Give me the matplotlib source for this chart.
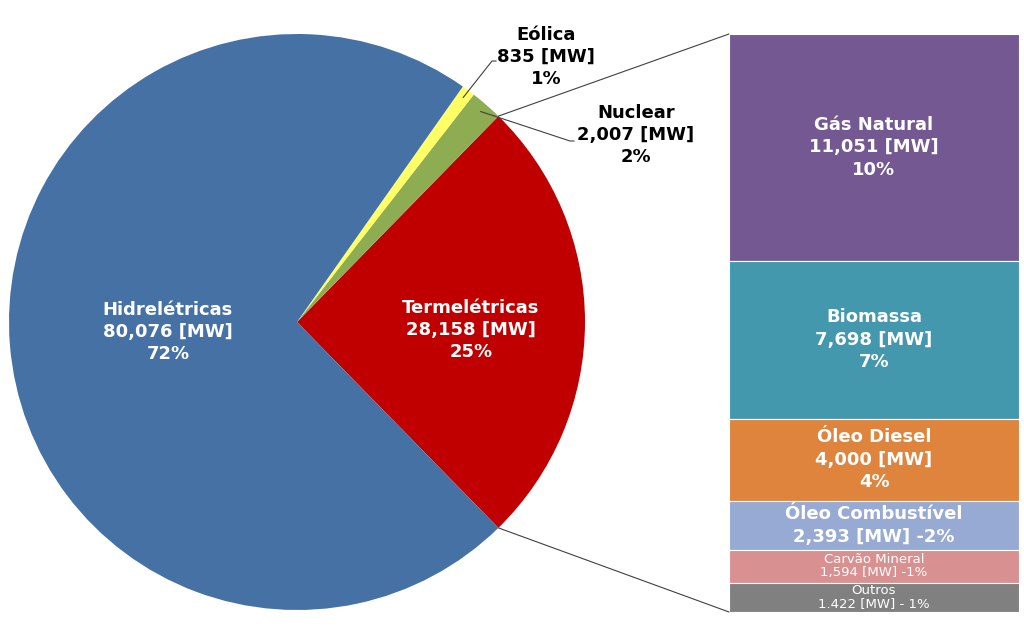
import numpy as np
import matplotlib
matplotlib.use("Agg")
import matplotlib.pyplot as plt
from matplotlib.patches import ConnectionPatch

# pie: total installed capacity
pie_labels = ['Termelétricas', 'Nuclear', 'Eólica', 'Hidrelétricas']
pie_values = [28158, 2007, 835, 80076]
pie_pct = ['25%', '2%', '1%', '72%']
pie_colors = ['#C00000', '#8EAC52', '#FFFF66', '#4671A5']

# stacked bar: thermal breakdown (top to bottom)
bar_labels = ['Gás Natural', 'Biomassa', 'Óleo Diesel', 'Óleo Combustível',
              'Carvão Mineral', 'Outros']
bar_values = [11051, 7698, 4000, 2393, 1594, 1422]
bar_texts = ['Gás Natural\n11,051 [MW]\n10%',
             'Biomassa\n7,698 [MW]\n7%',
             'Óleo Diesel\n4,000 [MW]\n4%',
             'Óleo Combustível\n2,393 [MW] -2%',
             'Carvão Mineral\n1,594 [MW] -1%',
             'Outros\n1.422 [MW] - 1%']
bar_colors = ['#735891', '#4398AE', '#DE843D', '#97AAD3', '#D89190', '#808080']

W, H = 1024, 638
fig = plt.figure(figsize=(W / 100, H / 100), dpi=100)
ax = fig.add_axes([0, 0, 1, 1])

cx, cy, r = 297, 316, 288
total = sum(pie_values)
start = -360 * pie_values[0] / total / 2
wedges, _ = ax.pie(pie_values, colors=pie_colors, startangle=start,
                   center=(cx, cy), radius=r, frame=True,
                   wedgeprops=dict(linewidth=0))
ax.set_xlim(0, W)
ax.set_ylim(0, H)
ax.set_aspect('equal')
ax.axis('off')

bold = dict(fontsize=13, fontweight='bold', ha='center', va='center',
            linespacing=1.32, family='DejaVu Sans')

ax.text(168, H - 332, 'Hidrelétricas\n80,076 [MW]\n72%', color='white', **bold)
ax.text(471, H - 330, 'Termelétricas\n28,158 [MW]\n25%', color='white', **bold)
ax.text(546, H - 57, 'Eólica\n835 [MW]\n1%', color='black', **bold)
ax.text(636, H - 135, 'Nuclear\n2,007 [MW]\n2%', color='black', **bold)

# leader lines
def edge_pt(angle, frac=1.0):
    a = np.deg2rad(angle)
    return cx + frac * r * np.cos(a), cy + frac * r * np.sin(a)

e_mid = (wedges[2].theta1 + wedges[2].theta2) / 2
n_mid = (wedges[1].theta1 + wedges[1].theta2) / 2
ex, ey = edge_pt(e_mid, 0.97)
ax.plot([ex, 492, 496], [ey, H - 61, H - 61], color='#404040', lw=0.8)
nx, ny = edge_pt(n_mid, 0.97)
ax.plot([nx, 570, 574], [ny, H - 141, H - 141], color='#404040', lw=0.8)

# stacked bar
bx0, by0, bx1, by1 = 729, 612, 1019, 34
bax = fig.add_axes([bx0 / W, (H - by0) / H, (bx1 - bx0) / W, (by0 - by1) / H])
bax.set_xlim(-0.5, 0.5)
bar_total = sum(bar_values)
bax.set_ylim(0, bar_total)
bax.axis('off')
bottom = bar_total
for val, col, txt, lab in zip(bar_values, bar_colors, bar_texts, bar_labels):
    bottom -= val
    bax.bar(0, val, bottom=bottom, width=1, color=col, edgecolor='white', lw=0.8)
    if lab in ('Carvão Mineral', 'Outros'):
        bax.text(0, bottom + val / 2, txt, color='white', fontsize=9.5,
                 ha='center', va='center', linespacing=1.0, family='DejaVu Sans')
    else:
        bax.text(0, bottom + val / 2, txt, color='white', **bold)

# connecting lines from the thermal wedge to the bar
t1, t2 = wedges[0].theta1, wedges[0].theta2
for ang, yb in [(t2, 1), (t1, 0)]:
    con = ConnectionPatch(xyA=edge_pt(ang), coordsA=ax.transData,
                          xyB=(0, yb), coordsB=bax.transAxes,
                          color='#404040', lw=0.8)
    fig.add_artist(con)

fig.savefig('out.png', dpi=100, facecolor='white')
